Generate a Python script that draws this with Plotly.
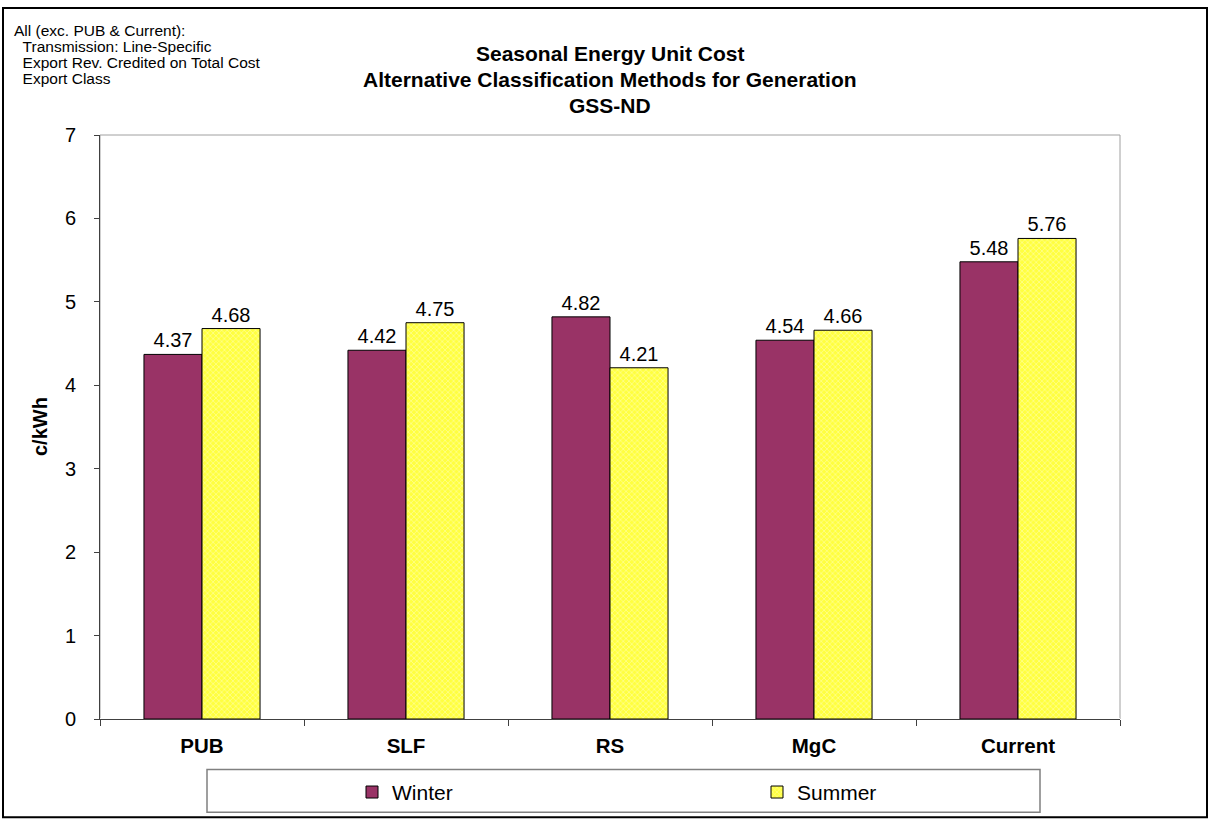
import plotly.graph_objects as go

categories = ["PUB", "SLF", "RS", "MgC", "Current"]
winter = [4.37, 4.42, 4.82, 4.54, 5.48]
summer = [4.68, 4.75, 4.21, 4.66, 5.76]
y_ticks = [0, 1, 2, 3, 4, 5, 6, 7]
title_lines = ["Seasonal Energy Unit Cost",
               "Alternative Classification Methods for Generation",
               "GSS-ND"]
note_lines = ["All (exc. PUB & Current):",
              "  Transmission: Line-Specific",
              "  Export Rev. Credited on Total Cost",
              "  Export Class"]

FONT = "Arial, Liberation Sans, sans-serif"

# pixel geometry helpers (plot area: x 100..1120, y 135..724)
PL, PR, PT, PB = 100, 1120, 135, 724
def px(x):
    return (x - PL) / (PR - PL)
def py(y):
    return (PB - y) / (PB - PT)

fig = go.Figure()
fig.add_trace(go.Bar(
    x=categories, y=winter, name="Winter", legend="legend",
    marker=dict(color="#993366", line=dict(color="black", width=1)),
    texttemplate="%{y:.2f}", textposition="outside",
    textfont=dict(size=20, color="black", family=FONT), cliponaxis=False,
))
fig.add_trace(go.Bar(
    x=categories, y=summer, name="Summer", legend="legend2",
    marker=dict(color="#FFFF66", line=dict(color="black", width=1),
                pattern=dict(shape="x", fgcolor="#FFFFCC", bgcolor="#FFFF40",
                             size=4, solidity=0.4)),
    texttemplate="%{y:.2f}", textposition="outside",
    textfont=dict(size=20, color="black", family=FONT), cliponaxis=False,
))

annotations = []
for i, t in enumerate(title_lines):
    annotations.append(dict(text="<b>%s</b>" % t, xref="paper", yref="paper",
                            x=0.5, y=py(53 + 26 * i), xanchor="center", yanchor="middle",
                            showarrow=False, font=dict(size=21, family=FONT, color="black")))
for i, t in enumerate(note_lines):
    annotations.append(dict(text=t.replace(" ", "&nbsp;", 2) if t.startswith("  ") else t,
                            xref="paper", yref="paper",
                            x=px(12), y=py(30 + 16 * i), xanchor="left", yanchor="middle",
                            showarrow=False, font=dict(size=15.5, family=FONT, color="black")))
annotations.append(dict(text="<b>c/kWh</b>", xref="paper", yref="paper",
                        x=px(40), y=0.5, xanchor="center", yanchor="middle", textangle=-90,
                        showarrow=False, font=dict(size=20, family=FONT, color="black")))

fig.update_layout(
    width=1209, height=825,
    margin=dict(l=PL, r=1209 - PR, t=PT, b=825 - PB),
    paper_bgcolor="white", plot_bgcolor="white",
    barmode="group", bargap=0.431, bargroupgap=0,
    font=dict(family=FONT, size=20, color="black"),
    showlegend=True,
    legend=dict(x=px(352), xanchor="left", y=py(798), yanchor="middle",
                bgcolor="rgba(0,0,0,0)", font=dict(size=21, family=FONT), itemwidth=30),
    legend2=dict(x=px(757), xanchor="left", y=py(798), yanchor="middle",
                 bgcolor="rgba(0,0,0,0)", font=dict(size=21, family=FONT), itemwidth=30),
    xaxis=dict(showline=True, linecolor="#404040", linewidth=1,
               ticks="outside", tickson="boundaries", ticklen=6, tickcolor="#404040",
               tickfont=dict(size=20.5, family=FONT, color="black", weight="bold"),
               ticklabelstandoff=8),
    yaxis=dict(range=[0, 7], tickvals=y_ticks, showgrid=False, showline=True,
               linecolor="#404040", linewidth=1, ticks="outside", ticklen=5,
               tickcolor="#404040", tickfont=dict(size=20, family=FONT),
               ticklabelstandoff=14),
    shapes=[
        dict(type="rect", xref="paper", yref="paper", x0=0, x1=1, y0=0, y1=1,
             line=dict(color="#A0A0A0", width=1), layer="below"),
        dict(type="rect", xref="paper", yref="paper", x0=px(3), x1=px(1207),
             y0=py(823), y1=py(7), line=dict(color="black", width=2)),
        dict(type="rect", xref="paper", yref="paper", x0=px(207), x1=px(1040),
             y0=py(818), y1=py(775), line=dict(color="#808080", width=1.5)),
    ],
    annotations=annotations,
)

fig.write_html("out.html", config={"displayModeBar": False},
               post_script="document.body.style.margin='0';document.body.style.overflow='hidden';")
